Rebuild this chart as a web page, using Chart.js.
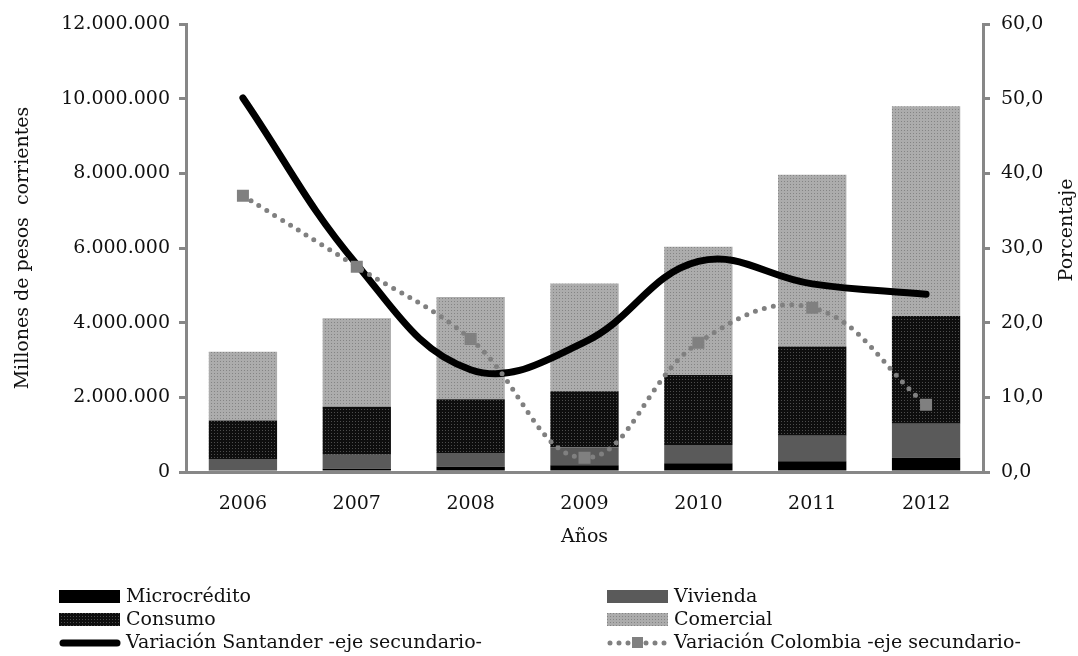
<!DOCTYPE html>
<html>
<head>
<meta charset="utf-8">
<script src="https://cdn.jsdelivr.net/npm/chart.js@4"></script>
<style>
  body { margin: 0; background: #fff; }
  canvas { display: block; }
</style>
</head>
<body>
<canvas id="chart" width="1078" height="656"></canvas>
<script>
const years = ["2006", "2007", "2008", "2009", "2010", "2011", "2012"];

// millones de pesos corrientes
const microcredito = [45000, 90000, 140000, 180000, 235000, 290000, 380000];
const vivienda = [305000, 370000, 370000, 480000, 490000, 680000, 910000];
const consumo = [1030000, 1290000, 1440000, 1500000, 1870000, 2390000, 2890000];
const comercial = [1840000, 2370000, 2740000, 2890000, 3440000, 4600000, 5620000];

// porcentaje, eje secundario
const varSantander = [50.1, 27.8, 13.7, 17.4, 28.2, 25.2, 23.8];
const varColombia = [37.0, 27.5, 17.8, 1.9, 17.3, 22.0, 9.0];

const font = '"DejaVu Serif", serif';
const axisGray = "#878787";

const makePattern = (bg, dot) => {
    const c = document.createElement("canvas");
    c.width = 3;
    c.height = 3;
    const x = c.getContext("2d");
    x.fillStyle = bg;
    x.fillRect(0, 0, 3, 3);
    x.fillStyle = dot;
    x.fillRect(1, 1, 1, 1);
    return x.createPattern(c, "repeat");
}

const consumoFill = makePattern("#0e0e0e", "#4d4d4d");
const comercialFill = makePattern("#acacac", "#848484");

const thousands = (v) => String(v).replace(/\B(?=(\d{3})+(?!\d))/g, ".");

// legend drawn by hand, two columns like the original
const legendPlugin = {
    id: "legendBoxes",
    afterDraw(chart) {
        const ctx = chart.ctx;
        ctx.save();
        ctx.font = "19px " + font;
        ctx.fillStyle = "#111";
        ctx.textBaseline = "middle";

        const items = [
            { x: 59, y: 597, text: "Microcrédito", kind: "box", fill: "#000" },
            { x: 607, y: 597, text: "Vivienda", kind: "box", fill: "#5a5a5a" },
            { x: 59, y: 620, text: "Consumo", kind: "box", fill: consumoFill },
            { x: 607, y: 620, text: "Comercial", kind: "box", fill: comercialFill },
            { x: 59, y: 643, text: "Variación Santander -eje secundario-", kind: "line" },
            { x: 607, y: 643, text: "Variación Colombia -eje secundario-", kind: "dots" }
        ];

        for (let it of items) {
            if (it.kind == "box") {
                ctx.fillStyle = it.fill;
                ctx.fillRect(it.x, it.y - 7, 61, 13);
            } else if (it.kind == "line") {
                ctx.strokeStyle = "#000";
                ctx.lineWidth = 7;
                ctx.lineCap = "round";
                ctx.beginPath();
                ctx.moveTo(it.x + 4, it.y);
                ctx.lineTo(it.x + 58, it.y);
                ctx.stroke();
            } else {
                ctx.strokeStyle = "#808080";
                ctx.lineWidth = 5;
                ctx.lineCap = "round";
                ctx.setLineDash([0, 9]);
                ctx.beginPath();
                ctx.moveTo(it.x + 3, it.y);
                ctx.lineTo(it.x + 60, it.y);
                ctx.stroke();
                ctx.setLineDash([]);
                ctx.fillStyle = "#808080";
                ctx.fillRect(it.x + 25, it.y - 6, 11, 11);
            }
            ctx.fillStyle = "#111";
            ctx.fillText(it.text, it.x + 67, it.y);
        }

        // right axis title reads bottom to top
        ctx.translate(1067, 230);
        ctx.rotate(-Math.PI / 2);
        ctx.textAlign = "center";
        ctx.font = "19px " + font;
        ctx.fillText("Porcentaje", 0, 0);
        ctx.restore();
    }
}

new Chart(document.querySelector("#chart"), {
    type: "bar",
    data: {
        labels: years,
        datasets: [
            {
                type: "line",
                label: "Variación Colombia -eje secundario-",
                data: varColombia,
                yAxisID: "y1",
                order: 0,
                borderColor: "#808080",
                borderWidth: 5,
                borderDash: [0, 9.3],
                borderCapStyle: "round",
                tension: 0.4,
                pointStyle: "rect",
                pointRadius: 8.5,
                pointBackgroundColor: "#808080",
                pointBorderWidth: 0
            },
            {
                type: "line",
                label: "Variación Santander -eje secundario-",
                data: varSantander,
                yAxisID: "y1",
                order: 1,
                borderColor: "#000",
                borderWidth: 7,
                borderCapStyle: "round",
                tension: 0.4,
                pointRadius: 0
            },
            { label: "Microcrédito", data: microcredito, backgroundColor: "#000", order: 2, stack: "s" },
            { label: "Vivienda", data: vivienda, backgroundColor: "#5a5a5a", order: 2, stack: "s" },
            { label: "Consumo", data: consumo, backgroundColor: consumoFill, order: 2, stack: "s" },
            { label: "Comercial", data: comercial, backgroundColor: comercialFill, order: 2, stack: "s" }
        ]
    },
    options: {
        responsive: false,
        animation: false,
        events: [],
        categoryPercentage: 1,
        barPercentage: 0.6,
        layout: { padding: { top: 24, left: 0, right: 0, bottom: 104 } },
        plugins: {
            legend: { display: false },
            tooltip: { enabled: false }
        },
        scales: {
            x: {
                stacked: true,
                grid: { display: false },
                border: { color: axisGray, width: 3 },
                ticks: { color: "#111", font: { family: font, size: 19 }, padding: 13 },
                title: { display: true, text: "Años", color: "#111", font: { family: font, size: 19 }, padding: { top: 4, bottom: 4 } },
                afterFit: (s) => { s.height = 80; }
            },
            y: {
                stacked: true,
                position: "left",
                min: 0,
                max: 12000000,
                ticks: {
                    stepSize: 2000000,
                    color: "#111",
                    font: { family: font, size: 19 },
                    padding: 9,
                    callback: (v) => thousands(v)
                },
                grid: { drawOnChartArea: false, drawTicks: true, tickLength: 7, color: axisGray, lineWidth: 3 },
                border: { color: axisGray, width: 3 },
                title: { display: true, text: "Millones de pesos  corrientes", color: "#111", font: { family: font, size: 19 }, padding: { top: 12, bottom: 0 } },
                afterFit: (s) => { s.width = 186; }
            },
            y1: {
                position: "right",
                min: 0,
                max: 60,
                ticks: {
                    stepSize: 10,
                    color: "#111",
                    font: { family: font, size: 19 },
                    padding: 11,
                    callback: (v) => v.toFixed(1).replace(".", ",")
                },
                grid: { drawOnChartArea: false, drawTicks: true, tickLength: 7, color: axisGray, lineWidth: 3 },
                border: { color: axisGray, width: 3 },
                afterFit: (s) => { s.width = 95; }
            }
        }
    },
    plugins: [legendPlugin]
})
</script>
</body>
</html>
